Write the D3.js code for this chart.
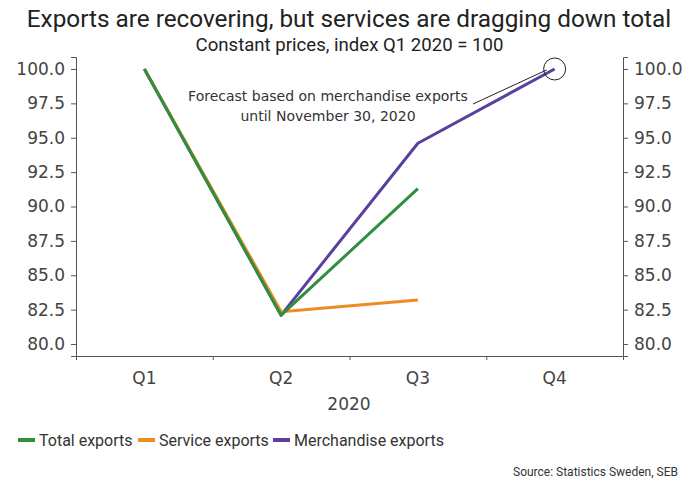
<!DOCTYPE html>
<html><head><meta charset="utf-8">
<script src="https://cdn.jsdelivr.net/npm/d3@7"></script>
<style>body{margin:0;background:#fff}text{font-family:Roboto,"Noto Sans",sans-serif}.dv{font-family:"DejaVu Sans",sans-serif}</style>
</head><body><svg id="c" width="689" height="479"></svg>
<script>
const categories = ["Q1","Q2","Q3","Q4"];
const yTicks = [80,82.5,85,87.5,90,92.5,95,97.5,100];
const totalExports = [100, 82.1, 91.3, null];
const serviceExports = [100, 82.35, 83.2, null];
const merchandiseExports = [100, 82.1, 94.6, 100];
const seriesNames = ["Total exports","Service exports","Merchandise exports"];
const seriesColors = ["#2f8f3d","#ef8b24","#5b3f9f"];

const svg = d3.select("#c");
const x = d3.scaleBand().domain(categories).range([76,623]).padding(0);
const y = d3.scaleLinear().domain([79.13,100.87]).range([356,57]);

svg.append("text").attr("x",349).attr("y",27).attr("text-anchor","middle").attr("font-size",24.3).attr("fill","#222")
  .text("Exports are recovering, but services are dragging down total");
svg.append("text").attr("x",349.5).attr("y",51).attr("text-anchor","middle").attr("font-size",18.6).attr("fill","#222")
  .text("Constant prices, index Q1 2020 = 100");

const fmt = d3.format(".1f");
const gl = svg.append("g").attr("transform","translate(76,0)").call(d3.axisLeft(y).tickValues(yTicks).tickFormat(fmt).tickSize(5).tickPadding(6));
const gr = svg.append("g").attr("transform","translate(623,0)").call(d3.axisRight(y).tickValues(yTicks).tickFormat(fmt).tickSize(5).tickPadding(6));
const xb = d3.scaleLinear().domain([0,4]).range([76,623]);
const gx = svg.append("g").attr("transform","translate(0,356)").call(d3.axisBottom(xb).tickValues([0,1,2,3,4]).tickFormat("").tickSize(4));
[gl,gr,gx].forEach(g=>{g.selectAll("path,line").attr("stroke","#555");g.selectAll("text").attr("class","dv").attr("font-family","DejaVu Sans").attr("font-size",17).attr("fill","#444");});
gx.selectAll(".tick").filter(d=>d===0||d===4).select("line").remove();
svg.append("g").selectAll("text").data(categories).join("text").attr("class","dv")
  .attr("x",d=>x(d)+x.bandwidth()/2).attr("y",384).attr("text-anchor","middle").attr("font-size",17).attr("fill","#444").text(d=>d);
svg.append("text").attr("class","dv").attr("x",349).attr("y",410).attr("text-anchor","middle").attr("font-size",17).attr("fill","#444").text("2020");

const series = [merchandiseExports, serviceExports, totalExports];
const cols = [seriesColors[2], seriesColors[1], seriesColors[0]];
const line = d3.line().defined(d=>d!=null).x((d,i)=>x(categories[i])+x.bandwidth()/2).y(d=>y(d));
series.forEach((s,k)=>{
  svg.append("path").datum(s).attr("d",line).attr("fill","none").attr("stroke",cols[k]).attr("stroke-width",3).attr("stroke-linejoin","round");
});

// annotation
const cx = x("Q4")+x.bandwidth()/2, cy = y(100);
svg.append("circle").attr("cx",cx).attr("cy",cy).attr("r",11).attr("fill","none").attr("stroke","#222").attr("stroke-width",1);
svg.append("line").attr("x1",473).attr("y1",104).attr("x2",cx-8).attr("y2",cy+1).attr("stroke","#222").attr("stroke-width",1);
svg.append("text").attr("class","dv").attr("x",328).attr("y",101).attr("text-anchor","middle").attr("font-size",14).attr("fill","#333").text("Forecast based on merchandise exports");
svg.append("text").attr("class","dv").attr("x",328).attr("y",121).attr("text-anchor","middle").attr("font-size",14).attr("fill","#333").text("until November 30, 2020");

// legend
const legX=[18,138,273];
seriesNames.forEach((n,i)=>{
  svg.append("rect").attr("x",legX[i]).attr("y",438).attr("width",17).attr("height",4).attr("fill",seriesColors[i]);
  svg.append("text").attr("x",legX[i]+21).attr("y",446).attr("font-size",16).attr("fill","#333").text(n);
});
svg.append("text").attr("x",678).attr("y",476).attr("text-anchor","end").attr("font-size",12).attr("fill","#333").text("Source: Statistics Sweden, SEB");
</script></body></html>
